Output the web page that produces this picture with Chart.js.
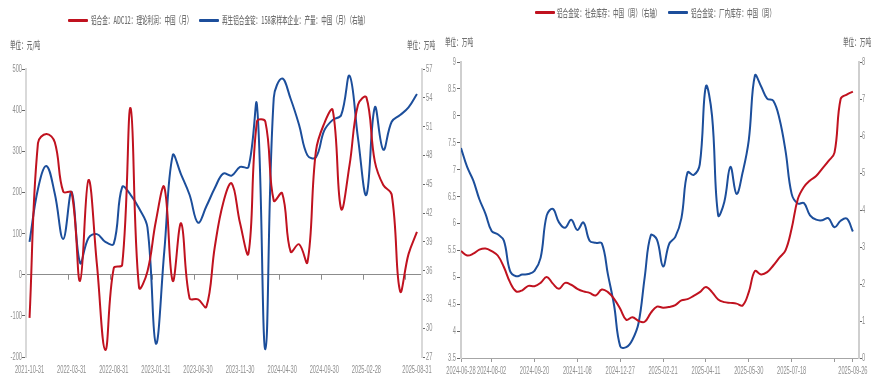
<!DOCTYPE html>
<html>
<head>
<meta charset="utf-8">
<script src="https://cdn.jsdelivr.net/npm/chart.js@4.4.1/dist/chart.umd.min.js"></script>
<style>
  body { margin: 0; width: 883px; height: 389px; background: #fff; position: relative; overflow: hidden; }
  .panel { position: absolute; top: 0; height: 389px; }
  #leftPanel { left: 0; width: 440px; }
  #rightPanel { left: 440px; width: 443px; }
  .txt { position: absolute; white-space: nowrap; font: 500 10px "Noto Sans CJK SC", sans-serif; line-height: 12px; color: #707070; transform: scaleX(0.56); transform-origin: 0 50%; }
  .swatch { position: absolute; width: 20px; height: 3px; border-radius: 1px; }
</style>
</head>
<body>
<div class="panel" id="leftPanel"><canvas id="profitChart"></canvas></div>
<div class="panel" id="rightPanel"><canvas id="stockChart"></canvas></div>

<div class="swatch" style="left:68px;top:19px;background:#C0121F"></div>
<div class="txt" style="left:91px;top:14px">铝合金：ADC12：理论利润：中国（月）</div>
<div class="swatch" style="left:199px;top:19px;background:#1C4E9B"></div>
<div class="txt" style="left:222px;top:14px">再生铝合金锭：158家样本企业：产量：中国（月）（右轴）</div>
<div class="txt" style="left:10px;top:39px">单位：元/吨</div>
<div class="txt" style="left:407px;top:39px">单位：万吨</div>

<div class="swatch" style="left:535px;top:11px;background:#C0121F"></div>
<div class="txt" style="left:557px;top:7px">铝合金锭：社会库存：中国（周）（右轴）</div>
<div class="swatch" style="left:668px;top:11px;background:#1C4E9B"></div>
<div class="txt" style="left:691px;top:7px">铝合金锭：厂内库存：中国（周）</div>
<div class="txt" style="left:445px;top:36px">单位：万吨</div>
<div class="txt" style="left:843px;top:36px">单位：万吨</div>

<script>
// ---- left chart: monthly ----
const months = [
  '2021-10-31','2021-11-30','2021-12-31',
  '2022-01-31','2022-02-28','2022-03-31','2022-04-30','2022-05-31','2022-06-30','2022-07-31','2022-08-31','2022-09-30','2022-10-31','2022-11-30','2022-12-31',
  '2023-01-31','2023-02-28','2023-03-31','2023-04-30','2023-05-31','2023-06-30','2023-07-31','2023-08-31','2023-09-30','2023-10-31','2023-11-30','2023-12-31',
  '2024-01-31','2024-02-29','2024-03-31','2024-04-30','2024-05-31','2024-06-30','2024-07-31','2024-08-31','2024-09-30','2024-10-31','2024-11-30','2024-12-31',
  '2025-01-31','2025-02-28','2025-03-31','2025-04-30','2025-05-31','2025-06-30','2025-07-31','2025-08-31'
];
// 铝合金:ADC12:理论利润 (元/吨, left axis)
const adc12Profit = [-105, 320, 342, 322, 202, 200, -15, 230, 25, -183, 16, 24, 405, -31, 8, 130,
  213, -15, 125, -57, -60, -78, 68, 175, 222, 125, 52, 372, 372, 180, 198, 56, 74, 30, 300, 368,
  400, 160, 267, 413, 431, 275, 218, 195, -40, 50, 104];
// 再生铝合金锭:158家样本企业:产量 (万吨, right axis)
const recycledOutput = [39.0, 44.5, 46.9, 44.0, 39.3, 44.2, 36.8, 39.4, 39.8, 39.0, 38.8, 44.7, 43.9, 42.5, 40.5, 28.4,
  38.0, 48.0, 46.0, 43.9, 41.0, 42.7, 44.6, 46.1, 45.9, 46.8, 46.8, 53.3, 27.8, 54.0, 56.0, 53.9,
  51.2, 48.0, 47.8, 50.6, 51.7, 52.2, 56.3, 49.8, 43.9, 53.0, 48.6, 51.5, 52.2, 53.0, 54.4];
const monthTickIdx = [0, 5, 10, 15, 20, 25, 30, 35, 40, 46];
const zeroLineTickIdx = [5, 10, 15, 20, 25, 30, 35, 40, 45];

// ---- right chart: weekly ----
const weeks = [
  '2024-06-28','2024-07-05','2024-07-12','2024-07-19','2024-07-26','2024-08-02','2024-08-09','2024-08-16','2024-08-23','2024-08-30',
  '2024-09-06','2024-09-13','2024-09-20','2024-09-27','2024-10-04','2024-10-11','2024-10-18','2024-10-25','2024-11-01','2024-11-08',
  '2024-11-15','2024-11-22','2024-11-29','2024-12-06','2024-12-13','2024-12-20','2024-12-27','2025-01-03','2025-01-10','2025-01-17',
  '2025-01-24','2025-02-07','2025-02-14','2025-02-21','2025-02-28','2025-03-07','2025-03-14','2025-03-21','2025-03-28','2025-04-04',
  '2025-04-11','2025-04-18','2025-04-25','2025-05-02','2025-05-09','2025-05-16','2025-05-23','2025-05-30','2025-06-06','2025-06-13',
  '2025-06-20','2025-06-27','2025-07-04','2025-07-11','2025-07-18','2025-07-25','2025-08-01','2025-08-08','2025-08-15','2025-08-22',
  '2025-08-29','2025-09-05','2025-09-12','2025-09-19','2025-09-26'
];
// 铝合金锭:社会库存 (万吨, right axis)
const socialStock = [2.89, 2.77, 2.82, 2.93, 2.96, 2.89, 2.77, 2.46, 2.05, 1.80, 1.83, 1.95, 1.94, 2.03, 2.19, 2.01,
  1.87, 2.03, 1.98, 1.87, 1.80, 1.76, 1.69, 1.85, 1.78, 1.60, 1.33, 1.03, 1.10, 1.00, 0.98, 1.22,
  1.39, 1.36, 1.38, 1.43, 1.56, 1.59, 1.68, 1.78, 1.92, 1.78, 1.58, 1.51, 1.49, 1.47, 1.42, 1.78,
  2.35, 2.26, 2.32, 2.50, 2.71, 2.91, 3.50, 4.29, 4.62, 4.80, 4.92, 5.12, 5.32, 5.55, 7.00, 7.12, 7.20];
// 铝合金锭:厂内库存 (万吨, left axis)
const plantStock = [7.40, 7.05, 6.80, 6.45, 6.18, 5.86, 5.80, 5.68, 5.12, 5.02, 5.05, 5.06, 5.12, 5.36, 6.15, 6.27,
  6.02, 5.92, 6.07, 5.88, 6.02, 5.68, 5.64, 5.63, 5.05, 4.48, 3.72, 3.70, 3.84, 4.15, 5.00, 5.78,
  5.70, 5.20, 5.62, 5.75, 6.10, 6.95, 6.90, 7.10, 8.55, 8.00, 6.15, 6.40, 7.05, 6.55, 6.95, 7.55,
  8.75, 8.55, 8.32, 8.28, 7.95, 7.35, 6.55, 6.37, 6.38, 6.15, 6.07, 6.06, 6.10, 5.93, 6.05, 6.09, 5.85];
const weekTickIdx = [0, 5, 12, 19, 26, 33, 40, 47, 54, 61, 64];
const weekLabelSkip = [61];

const RED = '#C0121F';
const BLUE = '#1C4E9B';
const SQUEEZE = 0.52;
const TICK_FONT = '11px "Liberation Sans", Arial, sans-serif';

// Wind 风格的窄字体刻度：手动横向压缩绘制
const squeezedTicks = {
  id: 'squeezedTicks',
  afterDraw(chart, args, opts) {
    const ctx = chart.ctx;
    ctx.save();
    ctx.font = TICK_FONT;
    ctx.fillStyle = '#8f8f8f';
    ctx.textBaseline = 'middle';
    Object.values(chart.scales).forEach(scale => {
      const fmt = opts.labels[scale.id];
      if (!fmt) return;
      scale.ticks.forEach(t => {
        const text = fmt(t.value);
        if (!text) return;
        const w = ctx.measureText(text).width * SQUEEZE;
        const p = scale.getPixelForValue(t.value);
        let x, y;
        if (scale.isHorizontal()) { x = p - w / 2; y = chart.chartArea.bottom + opts.xGap; }
        else if (scale.position === 'left') { x = scale.right - opts.leftGap - w; y = p; }
        else { x = scale.left + opts.rightGap; y = p; }
        ctx.save();
        ctx.translate(x, y);
        ctx.scale(SQUEEZE, 1);
        ctx.fillText(text, 0, 0);
        ctx.restore();
      });
    });
    ctx.restore();
  }
};

// 零轴上的刻度线
const zeroLineTicks = {
  id: 'zeroLineTicks',
  beforeDatasetsDraw(chart, args, opts) {
    if (!opts.ticks) return;
    const ctx = chart.ctx;
    const y0 = chart.scales.y.getPixelForValue(0);
    ctx.save();
    ctx.strokeStyle = '#8c8c8c';
    ctx.lineWidth = 1;
    opts.ticks.forEach(i => {
      const x = Math.round(chart.scales.x.getPixelForValue(i - 0.42)) + 0.5;
      ctx.beginPath();
      ctx.moveTo(x, y0);
      ctx.lineTo(x, y0 + 5);
      ctx.stroke();
    });
    ctx.restore();
  }
};

function fixSize(size) {
  return function(scale) {
    if (scale.isHorizontal()) scale.height = size; else scale.width = size;
  };
}

function fmtNum(v) { return String(Math.round(v * 10) / 10); }

function lineSet(label, values, color, axis) {
  return {
    label: label,
    data: values.map((v, i) => ({ x: i, y: v })),
    borderColor: color,
    backgroundColor: color,
    borderWidth: 2,
    pointRadius: 0,
    tension: 0.4,
    yAxisID: axis
  };
}

// ---- left chart ----
new Chart(document.getElementById('profitChart'), {
  type: 'line',
  data: {
    datasets: [
      lineSet('铝合金:ADC12:理论利润:中国(月)', adc12Profit, RED, 'y'),
      lineSet('再生铝合金锭:158家样本企业:产量:中国(月)(右轴)', recycledOutput, BLUE, 'y2')
    ]
  },
  options: {
    responsive: true,
    maintainAspectRatio: false,
    animation: false,
    layout: { padding: { top: 69, left: 0, right: 0, bottom: 0 } },
    plugins: {
      legend: { display: false },
      tooltip: { enabled: false },
      squeezedTicks: {
        xGap: 13, leftGap: 4, rightGap: 4,
        labels: {
          x: v => months[v] || '',
          y: v => String(v),
          y2: v => String(v)
        }
      },
      zeroLineTicks: { ticks: zeroLineTickIdx }
    },
    scales: {
      x: {
        type: 'linear', min: -0.42, max: 46.6,
        afterBuildTicks: s => { s.ticks = monthTickIdx.map(v => ({ value: v })); },
        afterFit: fixSize(32),
        ticks: { display: false },
        grid: { display: false },
        border: { display: false }
      },
      y: {
        position: 'left', min: -200, max: 500,
        ticks: { display: false, stepSize: 100 },
        afterFit: fixSize(26),
        grid: {
          color: c => (c.tick && c.tick.value === 0 ? '#8c8c8c' : 'rgba(0,0,0,0)'),
          tickColor: '#666', tickLength: 4, lineWidth: 1
        },
        border: { color: '#d9d9d9', width: 2 }
      },
      y2: {
        position: 'right', min: 27, max: 57,
        ticks: { display: false, stepSize: 3 },
        afterFit: fixSize(18),
        grid: { drawOnChartArea: false, tickColor: '#666', tickLength: 3 },
        border: { color: '#d9d9d9', width: 2 }
      }
    }
  },
  plugins: [squeezedTicks, zeroLineTicks]
});

// ---- right chart ----
new Chart(document.getElementById('stockChart'), {
  type: 'line',
  data: {
    datasets: [
      lineSet('铝合金锭:社会库存:中国(周)(右轴)', socialStock, RED, 'y2'),
      lineSet('铝合金锭:厂内库存:中国(周)', plantStock, BLUE, 'y')
    ]
  },
  options: {
    responsive: true,
    maintainAspectRatio: false,
    animation: false,
    layout: { padding: { top: 62, left: 0, right: 0, bottom: 0 } },
    plugins: {
      legend: { display: false },
      tooltip: { enabled: false },
      squeezedTicks: {
        xGap: 13, leftGap: 5, rightGap: 3,
        labels: {
          x: v => (weekLabelSkip.includes(v) ? '' : (weeks[v] || '')),
          y: fmtNum,
          y2: fmtNum
        }
      }
    },
    scales: {
      x: {
        type: 'linear', min: 0, max: 65,
        afterBuildTicks: s => { s.ticks = weekTickIdx.map(v => ({ value: v })); },
        afterFit: fixSize(31),
        ticks: { display: false },
        grid: { drawOnChartArea: false, tickColor: '#999', tickLength: 4 },
        border: { color: '#a6a6a6', width: 1 }
      },
      y: {
        position: 'left', min: 3.5, max: 9,
        ticks: { display: false, stepSize: 0.5 },
        afterFit: fixSize(21),
        grid: { drawOnChartArea: false, tickColor: '#666', tickLength: 4 },
        border: { color: '#cfcfcf', width: 2 }
      },
      y2: {
        position: 'right', min: 0, max: 8,
        ticks: { display: false, stepSize: 1 },
        afterFit: fixSize(24),
        grid: { drawOnChartArea: false, tickColor: '#666', tickLength: 3 },
        border: { color: '#cfcfcf', width: 2 }
      }
    }
  },
  plugins: [squeezedTicks]
});
</script>
</body>
</html>
